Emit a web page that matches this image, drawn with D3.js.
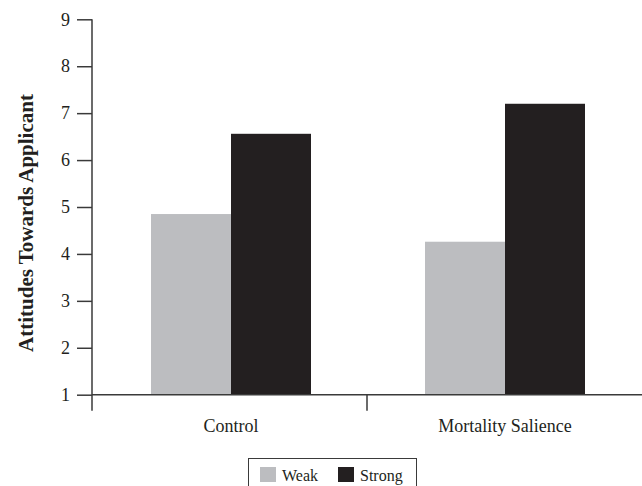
<!DOCTYPE html>
<html>
<head>
<meta charset="utf-8">
<script src="https://cdn.jsdelivr.net/npm/d3@7"></script>
<style>
  html, body { margin: 0; padding: 0; background: #fff; }
  svg { display: block; }
  text { font-family: "Liberation Serif", "Times New Roman", serif; fill: #231f20; }
</style>
</head>
<body>
<svg id="chart" width="642" height="486"></svg>
<script>
const categories = ["Control", "Mortality Salience"];
const seriesNames = ["Weak", "Strong"];
const weakValues = [4.85, 4.26];
const strongValues = [6.56, 7.20];
const yTicks = [1, 2, 3, 4, 5, 6, 7, 8, 9];
const yLabel = "Attitudes Towards Applicant";
const colors = ["#bcbdc0", "#231f20"];

(function () {
const svg = d3.select("#chart");
const axisColor = "#3a3a3a";

const mLeft = 92, mRight = 642, mTop = 19.3, mBottom = 394.7;

const y = d3.scaleLinear().domain([1, 9]).range([mBottom, mTop]);
const x0 = d3.scaleBand().domain(categories).range([94, 642]).padding(0);
const barW = 80;
const x1 = d3.scaleBand().domain(seriesNames)
  .range([(x0.bandwidth() - 2 * barW) / 2, (x0.bandwidth() + 2 * barW) / 2]).padding(0);

const data = categories.map((c, i) => ({
  cat: c,
  vals: [
    { s: "Weak", v: weakValues[i] },
    { s: "Strong", v: strongValues[i] }
  ]
}));

// bars
const g = svg.append("g");
g.selectAll("g.grp").data(data).join("g")
  .attr("class", "grp")
  .attr("transform", d => `translate(${x0(d.cat)},0)`)
  .selectAll("rect").data(d => d.vals).join("rect")
  .attr("x", d => x1(d.s))
  .attr("width", x1.bandwidth())
  .attr("y", d => y(d.v))
  .attr("height", d => y(1) - y(d.v))
  .attr("fill", d => colors[seriesNames.indexOf(d.s)]);

// y axis
const yAxis = d3.axisLeft(y).tickValues(yTicks).tickSize(15).tickPadding(7).tickFormat(d3.format("d"));
const yg = svg.append("g").attr("transform", `translate(${mLeft},0)`).call(yAxis);
yg.select(".domain").remove();
yg.append("line").attr("x1", 0).attr("x2", 0).attr("y1", mTop).attr("y2", mBottom + 16)
  .attr("stroke", axisColor).attr("stroke-width", 1.5);
yg.selectAll(".tick line").attr("stroke", axisColor).attr("stroke-width", 1.5);
yg.selectAll(".tick text").attr("font-size", 18).attr("fill", "#231f20")
  .attr("font-family", "'Liberation Serif', serif");

// x axis line
svg.append("line").attr("x1", mLeft).attr("x2", mRight).attr("y1", mBottom).attr("y2", mBottom)
  .attr("stroke", axisColor).attr("stroke-width", 1.5);
// category separator ticks
svg.selectAll("line.sep").data(categories.slice(1)).join("line")
  .attr("class", "sep")
  .attr("x1", d => x0(d) - 1).attr("x2", d => x0(d) - 1)
  .attr("y1", mBottom).attr("y2", mBottom + 16)
  .attr("stroke", axisColor).attr("stroke-width", 1.5);

// category labels
svg.selectAll("text.cat").data(categories).join("text")
  .attr("class", "cat")
  .attr("x", d => x0(d) + x0.bandwidth() / 2)
  .attr("y", 432)
  .attr("text-anchor", "middle")
  .attr("font-size", 18)
  .text(d => d);

// y label
svg.append("text")
  .attr("transform", `translate(33,223) rotate(-90)`)
  .attr("text-anchor", "middle")
  .attr("font-size", 21)
  .attr("font-weight", "bold")
  .text(yLabel);

// legend
const lg = svg.append("g");
lg.append("rect").attr("x", 248.5).attr("y", 458.5).attr("width", 168).attr("height", 40)
  .attr("fill", "none").attr("stroke", axisColor).attr("stroke-width", 1);
const legX = [260, 338];
seriesNames.forEach((s, i) => {
  lg.append("rect").attr("x", legX[i]).attr("y", 467).attr("width", 16).attr("height", 15)
    .attr("fill", colors[i]);
  lg.append("text").attr("x", legX[i] + 22).attr("y", 481).attr("font-size", 16).text(s);
});
})();
</script>
</body>
</html>
